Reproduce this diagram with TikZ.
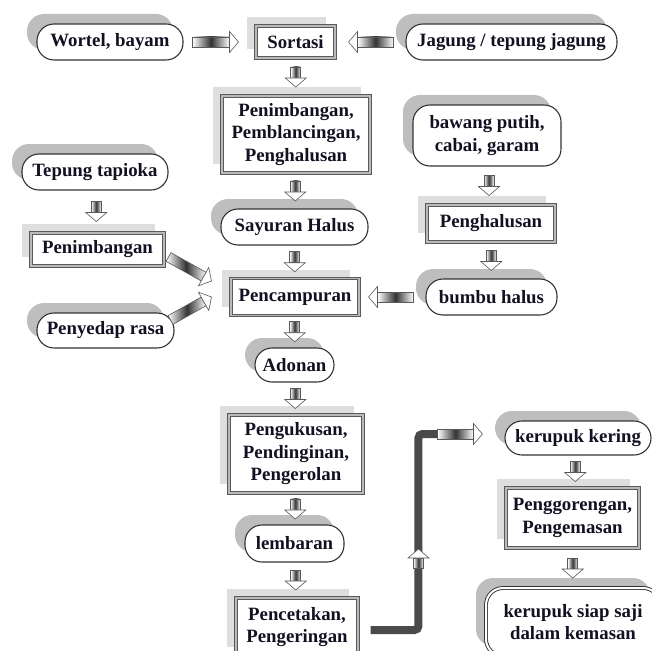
\documentclass[tikz,border=0pt]{standalone}
\usepackage{fontspec}
\setmainfont{Liberation Serif}
\usetikzlibrary{calc,shadows}
\definecolor{framegrey}{HTML}{5A5A5A}
\definecolor{pillgrey}{HTML}{BEBEBE}
\definecolor{boxgrey}{HTML}{DEDEDE}
\definecolor{pipegrey}{HTML}{4A4A4A}
\definecolor{inkdark}{HTML}{111122}
\newcommand{\flowarrow}[2]{%
  \path let \p1=#1, \p2=#2 in \pgfextra{%
    \pgfmathsetmacro{\tmpa}{atan2(\y2-\y1,\x2-\x1)}\global\let\flowang\tmpa
    \pgfmathsetmacro{\tmpb}{veclen(\x2-\x1,\y2-\y1)}\global\let\flowlen\tmpb
    \pgfmathsetmacro{\tmpc}{\x1}\global\let\flowx\tmpc
    \pgfmathsetmacro{\tmpd}{\y1}\global\let\flowy\tmpd};
  \begin{scope}[shift={(\flowx,\flowy)}, rotate=\flowang]
    \shade[flowshaft] (0,-5) rectangle ({\flowlen-9},5);
    \filldraw[flowhead] ({\flowlen-9},-10.5) -- (\flowlen,0) -- ({\flowlen-9},10.5) -- cycle;
  \end{scope}}
\newcommand{\downflow}[2]{%
  \flowarrow{($(#1.south)!0.5!(#2.north)+(0,10)$)}{($(#1.south)!0.5!(#2.north)+(0,-10)$)}}
\begin{document}
\begin{tikzpicture}[x=1pt,y=1pt,
      font=\fontsize{18.8}{22.5}\selectfont\bfseries,
      pill/.style={draw=black!80,line width=1.1pt,fill=white,rounded corners=17pt,text=inkdark,
        minimum height=36pt,inner sep=0pt,align=center,
        drop shadow={shadow xshift=-10pt,shadow yshift=10pt,fill=pillgrey,opacity=1}},
      box/.style={draw=framegrey,double=gray!55,line width=1pt,double distance=1.6pt,fill=white,
        text=inkdark,minimum height=33pt,inner sep=0pt,align=center,
        drop shadow={shadow xshift=-9pt,shadow yshift=9pt,fill=boxgrey,opacity=1}},
      flowshaft/.style={draw=black!65,line width=0.6pt,left color=white,right color=white,middle color=black!80},
      flowhead/.style={draw=black!65,line width=0.6pt,fill=white,line join=miter},
      pipe/.style={pipegrey,line width=8pt,rounded corners=4pt}]
    \useasboundingbox (0,0) rectangle (652,-650);
    \clip (0,0) rectangle (652,-650);
    % centre column
    \node[box,minimum width=79pt,minimum height=32pt] (sortasi) at (295.5,-42) {Sortasi};
    \node[box,minimum width=148pt,minimum height=77pt] (olah) at (296,-134.5) {Penimbangan,\\Pemblancingan,\\Penghalusan};
    \node[pill,minimum width=147pt] (sayur) at (294.5,-227) {Sayuran Halus};
    \node[box,minimum width=128pt,minimum height=37pt] (campur) at (295,-297) {Pencampuran};
    \node[pill,minimum width=79pt,minimum height=34pt] (adonan) at (294.5,-365) {Adonan};
    \node[box,minimum width=134pt,minimum height=78pt] (kukus) at (296,-454) {Pengukusan,\\Pendinginan,\\Pengerolan};
    \node[pill,minimum width=99pt,minimum height=37pt] (lembar) at (294.5,-543.5) {lembaran};
    \node[box,minimum width=122pt,minimum height=58pt] (cetak) at (297,-627) {Pencetakan,\\Pengeringan};
    % inputs
    \node[pill,minimum width=146pt] (wortel) at (110,-42) {Wortel, bayam};
    \node[pill,minimum width=211pt] (jagung) at (511.5,-42) {Jagung / tepung jagung};
    \node[pill,minimum width=146pt] (tapioka) at (95,-172) {Tepung tapioka};
    \node[box,minimum width=133pt] (timbang) at (97.5,-249.5) {Penimbangan};
    \node[pill,minimum width=137pt,minimum height=35pt] (penyedap) at (105.5,-330.5) {Penyedap rasa};
    \node[pill,minimum width=148pt,minimum height=61pt] (bumbu) at (487,-135.5) {bawang putih,\\cabai, garam};
    \node[box,minimum width=128pt,minimum height=37pt] (halus) at (491,-223.5) {Penghalusan};
    \node[pill,minimum width=131pt] (bhalus) at (491.5,-297) {bumbu halus};
    % end of line
    \node[pill,minimum width=146pt,minimum height=34pt] (kering) at (578,-438) {kerupuk kering};
    \node[box,minimum width=133pt,minimum height=60pt] (goreng) at (572.5,-518) {Penggorengan,\\Pengemasan};
    \node[pill,double,line width=0.9pt,double distance=2pt,minimum width=174pt,minimum height=68pt] (saji) at (573,-622) {kerupuk siap saji\\dalam kemasan};
    \coordinate (riser) at ($(kering.west)+(-86,4)$);
    \draw[pipe] ($(cetak.east)+(12,-3)$) -| (riser) -- ++(21,0);
    \flowarrow{($(riser)+(0,-134)$)}{($(riser)+(0,-115)$)}
    \flowarrow{($(riser)+(19,0)$)}{($(kering.west)+(-22,4)$)}
    \flowarrow{($(wortel.east)+(9,0)$)}{($(sortasi.west)+(-17,0)$)}
    \flowarrow{($(jagung.west)+(-12,0)$)}{($(sortasi.east)+(13,0)$)}
    \flowarrow{($(bhalus.west)+(-12,0)$)}{($(campur.east)+(9,0)$)}
    \flowarrow{($(timbang.east)+(4,-7.5)$)}{($(campur.west)+(-19,16)$)}
    \flowarrow{($(penyedap.east)+(-4,10.5)$)}{($(campur.west)+(-19,0)$)}
    \downflow{sortasi}{olah}
    \downflow{olah}{sayur}
    \downflow{sayur}{campur}
    \downflow{campur}{adonan}
    \downflow{adonan}{kukus}
    \downflow{kukus}{lembar}
    \downflow{lembar}{cetak}
    \downflow{tapioka}{timbang}
    \downflow{bumbu}{halus}
    \downflow{halus}{bhalus}
    \downflow{kering}{goreng}
    \downflow{goreng}{saji}
\end{tikzpicture}
\end{document}
